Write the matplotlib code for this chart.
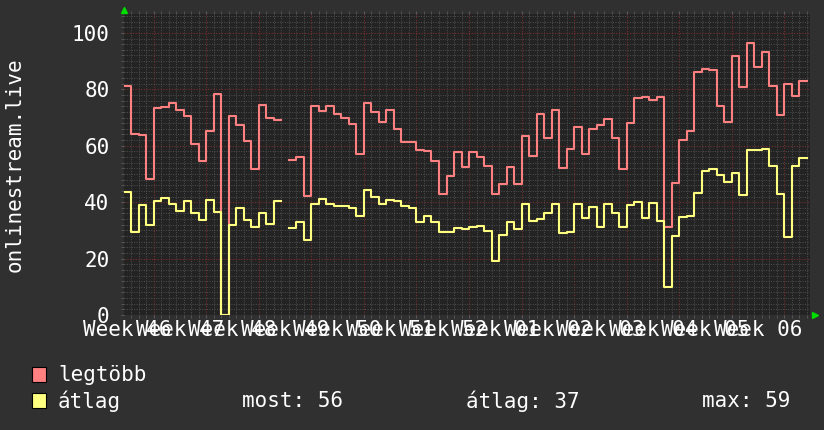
import numpy as np
import matplotlib.pyplot as plt
from matplotlib.patches import Rectangle

plt.rcParams['font.family'] = ['DejaVu Sans Mono']

# ---------------- DATA ----------------
# one value per day, day 0 = Monday that starts week 48
days = np.arange(-11, 80)

legtobb = [81.0, 64.1, 63.7, 48.3, 73.3, 73.7, 75.3, 72.6, 70.6, 60.6,
           54.6, 65.4, 78.3, 0.0, 70.4, 67.3, 61.7, 51.8, 74.5, 69.9,
           69.1, np.nan, 54.9, 56.0, 42.1, 74.0, 72.3, 74.0, 71.2, 69.7,
           67.6, 57.0, 75.2, 72.0, 68.4, 72.6, 66.0, 61.2, 61.5, 58.6,
           58.2, 54.6, 42.9, 49.3, 57.7, 52.5, 57.7, 56.0, 52.9, 42.9,
           46.5, 52.3, 46.5, 63.5, 56.4, 71.4, 62.8, 72.6, 52.2, 59.0,
           66.7, 57.0, 66.1, 67.4, 69.5, 62.9, 51.7, 68.1, 76.9, 77.4,
           76.3, 77.2, 31.3, 46.8, 62.2, 65.3, 86.1, 87.3, 86.7, 74.0,
           68.4, 91.8, 80.8, 96.4, 87.9, 93.2, 81.1, 70.8, 81.8, 77.5,
           83.0]

atlag = [43.5, 29.3, 38.9, 31.9, 40.4, 41.4, 39.2, 36.8, 40.5, 36.0,
         33.6, 40.7, 36.5, 0.0, 31.9, 37.8, 33.6, 31.3, 36.2, 32.4,
         40.5, np.nan, 30.9, 33.0, 26.5, 39.5, 41.1, 39.5, 38.7, 38.7,
         38.0, 35.2, 44.2, 41.9, 39.4, 40.7, 40.5, 38.6, 38.0, 33.0,
         35.0, 32.8, 29.3, 29.4, 30.7, 30.4, 31.2, 31.5, 29.7, 19.2,
         28.3, 32.8, 30.6, 39.2, 33.4, 33.9, 36.0, 39.2, 28.9, 29.5,
         39.2, 34.5, 38.3, 31.3, 39.2, 36.2, 31.3, 38.9, 40.0, 34.5,
         39.8, 33.4, 10.0, 28.0, 34.6, 35.2, 43.3, 51.1, 51.8, 49.6,
         47.2, 50.4, 42.5, 58.5, 58.5, 58.9, 52.9, 42.9, 27.6, 52.9,
         55.7]

week_labels = ["Week 46", "Week 47", "Week 48", "Week 49", "Week 50",
               "Week 51", "Week 52", "Week 01", "Week 02", "Week 03",
               "Week 04", "Week 05", "Week 06"]

summary = ["most: 56", "átlag: 37", "max: 59"]

# ---------------- STYLE ----------------
BG = "#303030"
CANVAS = "#232323"
RED = "#FF8080"
YELLOW = "#FFFF80"
TXT = "#FFFFFF"

W, H = 824, 430
fig = plt.figure(figsize=(W / 100, H / 100), dpi=100, facecolor=BG)
ax = fig.add_axes([124 / W, 115 / H, 686 / W, 301 / H])
ax.set_facecolor(CANVAS)

# step lines (rrdtool style): each value holds for one day
x = np.append(days, days[-1] + 1)
ax.step(x, np.append(legtobb, legtobb[-1]), where="post", color=RED, lw=1.5, zorder=3)
ax.step(x, np.append(atlag, atlag[-1]), where="post", color=YELLOW, lw=1.5, zorder=3)

ax.set_xlim(-10.96, 80.42)
ax.set_ylim(0, 106.7)

# grid
ax.set_xticks(np.arange(-7, 81, 7))
ax.set_xticks(np.arange(-10, 81), minor=True)
ax.set_yticks(np.arange(0, 101, 20))
ax.set_yticks(np.arange(0, 107, 2), minor=True)
ax.grid(which="minor", color="#505050", ls=(0, (1, 1.5)), lw=0.7, zorder=0)
ax.grid(which="major", color="#7a2e2e", ls=(0, (1, 1.5)), lw=0.8, zorder=1)
ax.set_axisbelow(True)

ax.set_xticklabels([])
ax.tick_params(which="both", direction="out", length=2.5, color="#5a5a5a",
               top=True, left=True, bottom=True, right=False)
ax.tick_params(axis="y", labelsize=15, labelcolor=TXT, pad=8)
for s in ax.spines.values():
    s.set_visible(False)

# week labels sit in the middle of each week (they overlap, like the original)
for i, lab in enumerate(week_labels):
    ax.text(-10.5 + 7 * i, -0.05, lab, transform=ax.get_xaxis_transform(),
            ha="center", va="center", fontsize=15, color=TXT, clip_on=False)

# green axis arrows
ax.plot([0.0], [1.013], marker="^", ms=5, color="#00dd00", transform=ax.transAxes, clip_on=False)
ax.plot([1.0075], [0.0], marker=">", ms=5, color="#00dd00", transform=ax.transAxes, clip_on=False)

# y title
fig.text(15 / W, 1 - 165 / H, "onlinestream.live", rotation=90, ha="center",
         va="center", fontsize=15, color=TXT)

# ---------------- LEGEND ----------------
for col, label, yc in [(RED, "legtöbb", 375), (YELLOW, "átlag", 401)]:
    fig.patches.append(Rectangle((32 / W, 1 - (yc + 7) / H), 14 / W, 15 / H,
                                 transform=fig.transFigure, facecolor=col,
                                 edgecolor="black", lw=0.8))
    fig.text(58 / W, 1 - yc / H, label, ha="left", va="center", fontsize=15, color=TXT)

for xpos, txt in zip([242, 466, 702], summary):
    fig.text(xpos / W, 1 - 401 / H, txt, ha="left", va="center", fontsize=15, color=TXT)

fig.savefig("out.png", dpi=100, facecolor=BG)
